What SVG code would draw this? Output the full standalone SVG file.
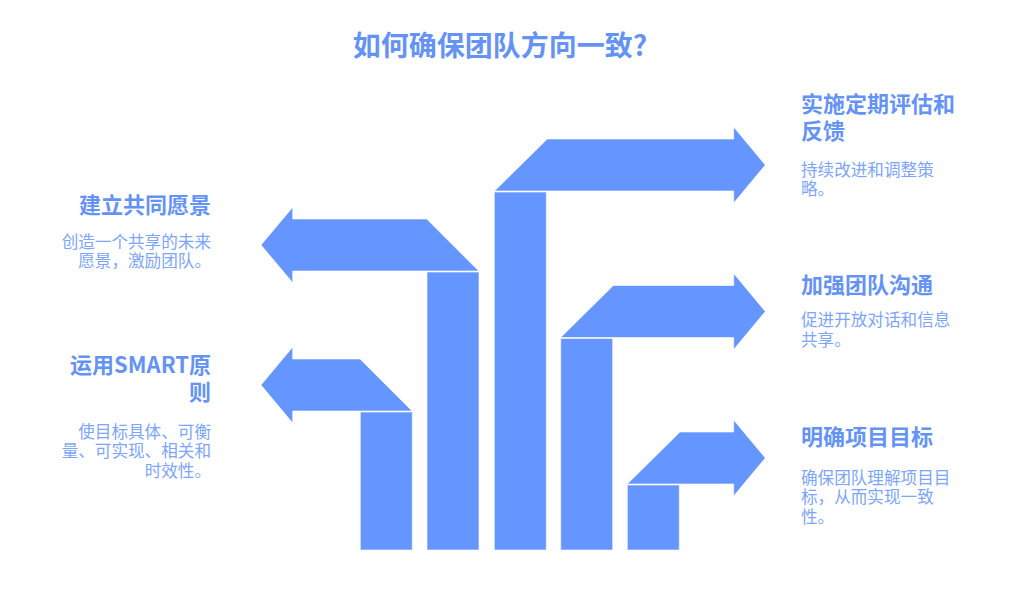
<svg xmlns="http://www.w3.org/2000/svg" width="1024" height="592" viewBox="0 0 1024 592">
<style>
.shape{fill:#6596ff;stroke:#ffffff;stroke-width:1;stroke-opacity:0.6}
.title{font-family:"Noto Sans CJK SC","Noto Sans",sans-serif;font-weight:700;font-size:28px;fill:#6593f5}
.head{font-family:"Noto Sans CJK SC","Noto Sans",sans-serif;font-weight:700;font-size:22px;fill:#6593f5}
.body{font-family:"Noto Sans CJK SC","Noto Sans",sans-serif;font-weight:400;font-size:16.6px;fill:#7da5f8}
.l{text-anchor:end}
</style>
<rect width="1024" height="592" fill="#ffffff"/>
<text class="title" x="500" y="55.5" text-anchor="middle">如何确保团队方向一致?</text>
<g id="connectors"></g>
<g id="node-smart">
<rect class="shape" x="360.3" y="412" width="52" height="138"/>
<path class="shape" d="M261,385 L292.7,347 L292.7,359 L360,359 L412,411 L292.7,411 L292.7,423 Z"/>
<text class="head l" x="211" y="372.5">运用SMART原</text>
<text class="head l" x="211" y="399.5">则</text>
<text class="body l" x="211" y="437.6">使目标具体、可衡</text>
<text class="body l" x="211" y="457.1">量、可实现、相关和</text>
<text class="body l" x="211" y="476.6">时效性。</text>
</g>
<g id="node-vision">
<rect class="shape" x="427" y="272" width="52" height="278"/>
<path class="shape" d="M261,245 L292.7,207.3 L292.7,219 L426.7,219 L478.7,271 L292.7,271 L292.7,282.7 Z"/>
<text class="head l" x="211" y="213.4">建立共同愿景</text>
<text class="body l" x="211" y="247.6">创造一个共享的未来</text>
<text class="body l" x="211" y="267">愿景，激励团队。</text>
</g>
<g id="node-review">
<rect class="shape" x="494.3" y="192" width="52" height="358"/>
<path class="shape" d="M765.3,165 L733.7,127 L733.7,139 L547.3,139 L494.5,191 L733.7,191 L733.7,203 Z"/>
<text class="head" x="801" y="111.5">实施定期评估和</text>
<text class="head" x="801" y="139">反馈</text>
<text class="body" x="801" y="175.8">持续改进和调整策</text>
<text class="body" x="801" y="195.3">略。</text>
</g>
<g id="node-communicate">
<rect class="shape" x="560.7" y="338.5" width="52" height="211.5"/>
<path class="shape" d="M765.3,311.5 L733.7,273.5 L733.7,285.5 L613.3,285.5 L560.7,337.5 L733.7,337.5 L733.7,349.5 Z"/>
<text class="head" x="801" y="293.4">加强团队沟通</text>
<text class="body" x="801" y="326.3">促进开放对话和信息</text>
<text class="body" x="801" y="346">共享。</text>
</g>
<g id="node-goals">
<rect class="shape" x="627.3" y="485" width="52" height="65"/>
<path class="shape" d="M765.3,458 L733.7,420 L733.7,432 L680,432 L627.3,484 L733.7,484 L733.7,496 Z"/>
<text class="head" x="801" y="445">明确项目目标</text>
<text class="body" x="801" y="483.6">确保团队理解项目目</text>
<text class="body" x="801" y="503.1">标，从而实现一致</text>
<text class="body" x="801" y="522.6">性。</text>
</g>
</svg>
